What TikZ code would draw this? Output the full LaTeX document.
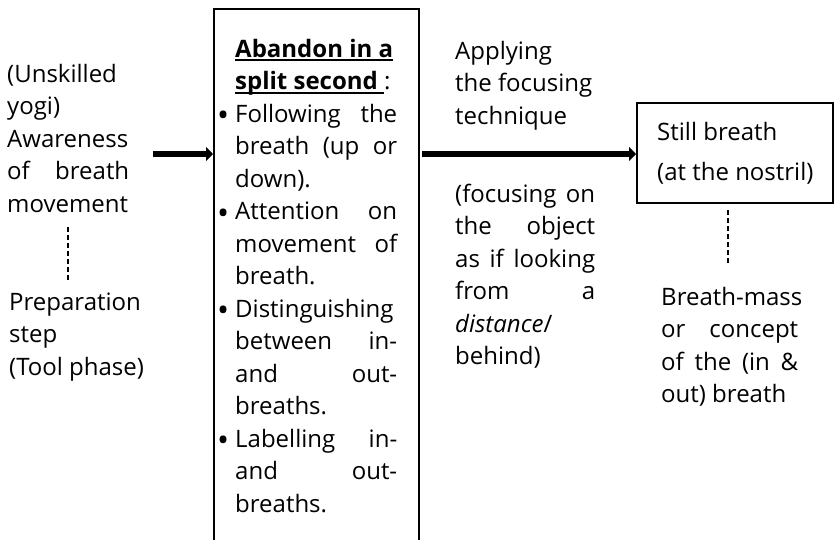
\documentclass[tikz,border=0pt]{standalone}
\usepackage{fontspec}
\setmainfont{Open Sans}
\usetikzlibrary{arrows.meta}
\newcommand\J[2]{\makebox[#1][s]{#2}}
\newcommand\myul[1]{\setbox0\hbox{#1}\rlap{\rule[-4pt]{\wd0}{1.6pt}}\box0}
\newcommand\bul{\llap{\raisebox{-4.5pt}{\fontsize{32}{32}\selectfont\textbullet}\hspace{6pt}}}
\begin{document}
\begin{tikzpicture}[x=1pt,y=-1pt,
  txt/.style={anchor=base west,inner sep=0pt,font=\fontsize{24}{32.5}\selectfont},
  thickarrow/.style={line width=6pt,-{Triangle[length=7pt,width=14pt]}},
  dashconn/.style={line width=1.5pt,dash pattern=on 5pt off 3pt},
  frame/.style={draw,line width=1.5pt,inner sep=0pt,anchor=north west}]
\useasboundingbox (0,0) rectangle (834,539);
% main box (open at the bottom)
\node[frame,minimum width=205pt,minimum height=580pt] (box) at (213,8) {};
% right box
\node[frame,minimum width=196pt,minimum height=100pt] (still) at (636,102) {};
% left texts
\node[txt] (left) at (7,82) {\parbox[t]{122pt}{%
\mbox{(Unskilled}\\
\mbox{yogi)}\\
\mbox{Awareness}\\
\J{122pt}{of breath}\\
\mbox{movement}}};
\node[txt] (prep) at (9,310) {\parbox[t]{140pt}{%
\mbox{Preparation}\\
\mbox{step}\\
\mbox{(Tool phase)}}};
% box contents
\node[txt] (boxtxt) at (235,57) {\parbox[t]{162pt}{%
\textbf{\myul{Abandon in a}}\\
\textbf{\myul{split second\ }}:\\
\bul\J{162pt}{Following the}\\
\J{162pt}{breath (up or}\\
\mbox{down).}\\
\bul\J{162pt}{Attention on}\\
\J{162pt}{movement of}\\
\mbox{breath.}\\
\bul\mbox{Distinguishing}\\
\J{162pt}{between in-}\\
\J{162pt}{and out-}\\
\mbox{breaths.}\\
\bul\J{162pt}{Labelling in-}\\
\J{162pt}{and out-}\\
\mbox{breaths.}}};
% middle texts
\node[txt] (apply) at (455,59) {\parbox[t]{150pt}{%
\mbox{Applying}\\
\mbox{the focusing}\\
\mbox{technique}}};
\node[txt] (focus) at (455,202) {\parbox[t]{140pt}{%
\J{140pt}{(focusing on}\\
\J{140pt}{the object}\\
\J{140pt}{as if looking}\\
\J{140pt}{from a}\\
\mbox{\textit{distance}/}\\
\mbox{behind)}}};
% right texts
\node[txt,font=\fontsize{24}{40}\selectfont] (stilltxt) at (657,140) {\parbox[t]{170pt}{%
\mbox{Still breath}\\
\mbox{(at the nostril)}}};
\node[txt] (mass) at (661,305) {\parbox[t]{137pt}{%
\mbox{Breath-mass}\\
\J{137pt}{or concept}\\
\J{137pt}{of the (in \&}\\
\mbox{out) breath}}};
% connectors
\coordinate (a1) at (153,154);
\coordinate (a2) at (422,154);
\draw[thickarrow] (a1) -- (a1 -| box.west);
\draw[thickarrow] (a2) -- (a2 -| still.west);
\coordinate (d1a) at (68,227);
\coordinate (d1b) at (68,282);
\coordinate (d2a) at (728,210);
\coordinate (d2b) at (728,265);
\draw[dashconn] (d1a) -- (d1b);
\draw[dashconn] (d2a) -- (d2b);
\end{tikzpicture}
\end{document}
